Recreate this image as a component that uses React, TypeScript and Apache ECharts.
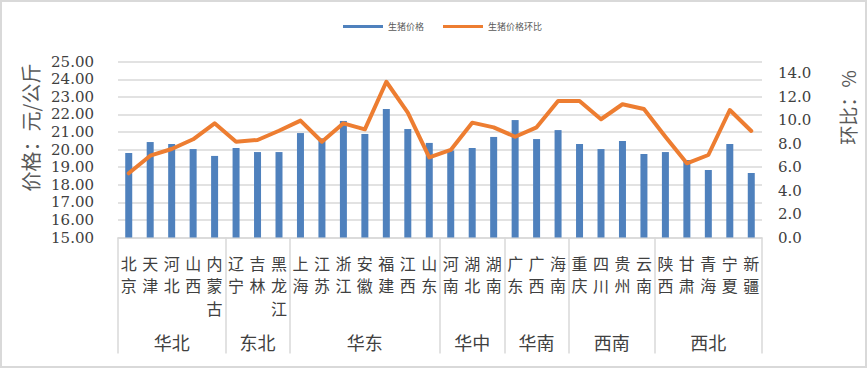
import React, { useEffect, useRef } from "react";
import * as echarts from "echarts";

const provinces = ["北京", "天津", "河北", "山西", "内蒙古", "辽宁", "吉林", "黑龙江", "上海", "江苏", "浙江", "安徽", "福建", "江西", "山东", "河南", "湖北", "湖南", "广东", "广西", "海南", "重庆", "四川", "贵州", "云南", "陕西", "甘肃", "青海", "宁夏", "新疆"];
const prices = [19.80, 20.43, 20.32, 20.03, 19.64, 20.09, 19.86, 19.86, 20.94, 20.64, 21.63, 20.89, 22.31, 21.17, 20.38, 19.95, 20.09, 20.72, 21.68, 20.60, 21.11, 20.32, 20.03, 20.49, 19.75, 19.86, 19.41, 18.84, 20.32, 18.67];
const ratios = [5.48, 6.98, 7.55, 8.38, 9.74, 8.17, 8.32, 9.11, 9.97, 8.17, 9.74, 9.23, 13.29, 10.65, 6.84, 7.47, 9.80, 9.40, 8.60, 9.40, 11.65, 11.65, 10.09, 11.37, 10.96, 8.60, 6.33, 7.04, 10.88, 9.09];
const regions = ["华北", "东北", "华东", "华中", "华南", "西南", "西北"];
const regionCounts = [5, 3, 7, 3, 3, 4, 5];

const seriesNames = ["生猪价格", "生猪价格环比"];

export default function App() {
  const ref = useRef<HTMLDivElement>(null);
  useEffect(() => {
    if (!ref.current) return;
    const chart = echarts.init(ref.current, null, { renderer: "svg" });
    const bounds: number[] = [0];
    const centers: number[] = [];
    regionCounts.forEach((c) => {
      const start = bounds[bounds.length - 1];
      centers.push(start + c / 2);
      bounds.push(start + c);
    });
    const textColor = "#404040";
    const gridColor = "#d9d9d9";
    const numFont = "'DejaVu Serif', serif";
    const cjkFont = "'Noto Sans CJK SC', sans-serif";
    chart.setOption({
      animation: false,
      backgroundColor: "#fff",
      legend: {
        top: 17,
        left: 338,
        itemGap: 19,
        itemWidth: 40,
        itemHeight: 3,
        textStyle: { fontSize: 9, color: "#595959", fontFamily: cjkFont },
        data: [
          { name: seriesNames[0], icon: "rect" },
          { name: seriesNames[1], icon: "rect" },
        ],
      },
      grid: { left: 118, right: 106, top: 61.7, bottom: 131.5 },
      xAxis: [
        {
          type: "category",
          data: provinces,
          axisLine: { show: true, lineStyle: { color: gridColor, width: 1.5 } },
          axisTick: { show: false },
          axisLabel: {
            interval: 0,
            margin: 14,
            fontSize: 16,
            lineHeight: 22.5,
            color: textColor,
            fontFamily: cjkFont,
            verticalAlign: "top",
            formatter: (v: string) => v.split("").join("\n"),
          },
        },
        {
          type: "value",
          min: 0,
          max: provinces.length,
          position: "bottom",
          axisLine: { show: false },
          splitLine: { show: false },
          axisTick: {
            show: true,
            customValues: bounds,
            length: 116,
            lineStyle: { color: gridColor, width: 1.5 },
          },
          axisLabel: {
            customValues: centers,
            margin: 95,
            fontSize: 18,
            color: textColor,
            fontFamily: cjkFont,
            formatter: (v: number) => {
              const i = centers.findIndex((c) => Math.abs(c - v) < 1e-6);
              return i >= 0 ? regions[i] : "";
            },
          },
        },
      ],
      yAxis: [
        {
          type: "value",
          min: 15,
          max: 25,
          interval: 1,
          axisLine: { show: false },
          axisTick: { show: false },
          splitLine: { lineStyle: { color: gridColor, width: 1.5 } },
          axisLabel: {
            margin: 24,
            fontSize: 15,
            color: textColor,
            fontFamily: numFont,
            formatter: (v: number) => v.toFixed(2),
          },
        },
        {
          type: "value",
          min: 0,
          max: 15,
          interval: 2,
          position: "right",
          axisLine: { show: false },
          axisTick: { show: false },
          splitLine: { show: false },
          axisLabel: {
            margin: 16,
            fontSize: 15,
            color: textColor,
            fontFamily: numFont,
            showMaxLabel: false,
            formatter: (v: number) => (v > 14 ? "" : v.toFixed(1)),
          },
        },
      ],
      series: [
        {
          name: seriesNames[0],
          type: "bar",
          data: prices,
          barWidth: 7,
          itemStyle: { color: "#4F81BD" },
          xAxisIndex: 0,
          yAxisIndex: 0,
        },
        {
          name: seriesNames[1],
          type: "line",
          data: ratios,
          xAxisIndex: 0,
          yAxisIndex: 1,
          showSymbol: false,
          symbol: "none",
          itemStyle: { color: "#ED7D31" },
          lineStyle: { color: "#ED7D31", width: 4, join: "round", cap: "round" },
        },
      ],
      graphic: [
        {
          type: "rect",
          shape: { x: 1, y: 1, width: 865, height: 366 },
          style: { fill: "none", stroke: gridColor, lineWidth: 2 },
          silent: true,
        },
        {
          type: "text",
          x: 30,
          y: 127.5,
          rotation: Math.PI / 2,
          style: {
            text: "价格：元/公斤",
            fontSize: 20,
            fill: "#595959",
            fontFamily: cjkFont,
            align: "center",
            verticalAlign: "middle",
          },
        },
        {
          type: "text",
          x: 847,
          y: 107.5,
          rotation: Math.PI / 2,
          style: {
            text: "环比：%",
            fontSize: 19,
            fill: "#595959",
            fontFamily: cjkFont,
            align: "center",
            verticalAlign: "middle",
          },
        },
      ],
    });
    return () => chart.dispose();
  }, []);
  return (
    <div
      ref={ref}
      style={{ position: "fixed", left: 0, top: 0, width: 868, height: 369 }}
    />
  );
}
